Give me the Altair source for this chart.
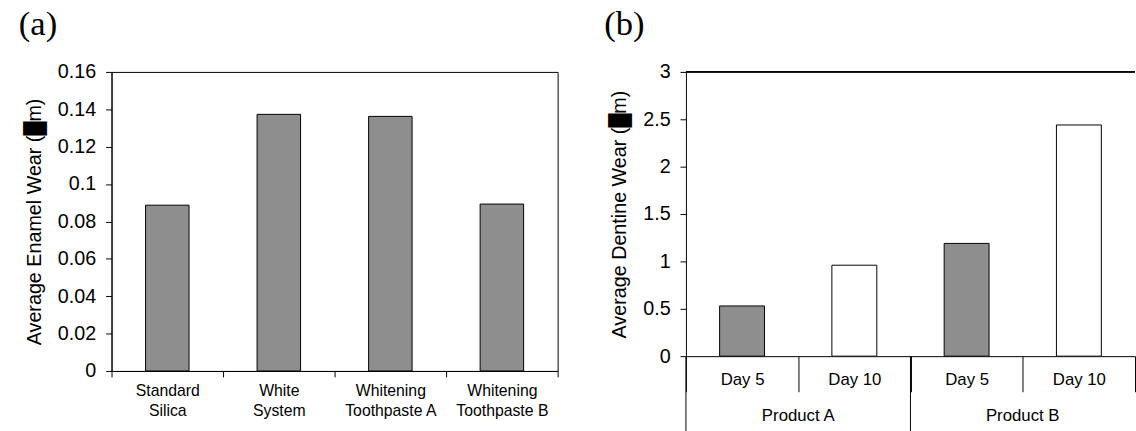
import altair as alt
import pandas as pd

# ---- data (a) ----
a_labels = ["Standard|Silica", "White|System", "Whitening|Toothpaste A", "Whitening|Toothpaste B"]
a_values = [0.0887, 0.1373, 0.1362, 0.0893]
a_ticks = [0, 0.02, 0.04, 0.06, 0.08, 0.1, 0.12, 0.14, 0.16]

# ---- data (b) ----
b_products = ["Product A", "Product A", "Product B", "Product B"]
b_days = ["Day 5", "Day 10", "Day 5", "Day 10"]
b_values = [0.53, 0.96, 1.19, 2.44]
b_pattern = ["hatched", "plain", "hatched", "plain"]
b_ticks = [0, 0.5, 1, 1.5, 2, 2.5, 3]

FONT = "Liberation Sans"
SERIF = "Liberation Serif"
HATCH = "#8e8e8e"
HA, HB = 303, 288  # plot heights

df_a = pd.DataFrame({"label": a_labels, "value": a_values})
b_keys = [p + "|" + d for p, d in zip(b_products, b_days)]
df_b = pd.DataFrame({"key": b_keys, "product": b_products, "day": b_days,
                     "value": b_values, "pattern": b_pattern})

yaxis_common = dict(grid=False, tickSize=6, labelPadding=10, labelFontSize=20,
                    titleFontSize=20, titleFontWeight="normal", titlePadding=13,
                    labelFont=FONT, titleFont=FONT, labelColor="black", titleColor="black",
                    tickColor="black", domainColor="black", format="~g")

chart_a = alt.Chart(df_a).mark_bar(
    width=alt.RelativeBandSize(0.39), fill=HATCH, stroke="black", strokeWidth=1
).encode(
    x=alt.X("label:N", sort=a_labels, title=None,
            scale=alt.Scale(paddingInner=0, paddingOuter=0),
            axis=alt.Axis(labelExpr="split(datum.label, '|')", labelAngle=0,
                          tickBand="extent", tickSize=6, labelPadding=6,
                          labelFontSize=16, labelLineHeight=20, labelFont=FONT,
                          labelColor="black", tickColor="black", domainColor="black",
                          labelBaseline="top")),
    y=alt.Y("value:Q", scale=alt.Scale(domain=[0, 0.16], nice=False),
            axis=alt.Axis(values=a_ticks, title="Average Enamel Wear (█m)", **yaxis_common)),
).properties(
    width=452, height=HA,
    title=alt.TitleParams("(a)", anchor="start", font=SERIF, fontSize=35,
                          fontWeight="normal", color="black", offset=20, dx=-6),
    view=alt.ViewBackground(stroke="black", strokeWidth=1),
)

x_b = alt.X("key:N", sort=b_keys, title=None,
            scale=alt.Scale(paddingInner=0, paddingOuter=0),
            axis=alt.Axis(labelExpr="split(datum.label, '|')[1]", labelAngle=0,
                          tickBand="extent", tickSize=36, labelPadding=-20,
                          labelFontSize=17, labelFont=FONT, labelColor="black",
                          tickColor="black", domainColor="black", labelBaseline="top"))
y_b = alt.Y("value:Q", scale=alt.Scale(domain=[0, 3], nice=False),
            axis=alt.Axis(values=b_ticks, title="Average Dentine Wear (█m)", **yaxis_common))

base_b = alt.Chart(df_b)
bars_b = base_b.mark_bar(width=alt.RelativeBandSize(0.4), stroke="black", strokeWidth=1).encode(
    x=x_b,
    y=y_b,
    fill=alt.Fill("pattern:N", scale=alt.Scale(domain=["hatched", "plain"], range=[HATCH, "white"]),
                  legend=None),
)
# product separators (start of each product group), extending below the axis
sep_b = base_b.transform_filter(alt.datum.day == "Day 5").mark_rule(
    color="black", strokeWidth=1, clip=False
).encode(
    x=alt.X("key:N", sort=b_keys, bandPosition=0),
    y=alt.value(HB), y2=alt.value(HB + 76),
)
# product labels, centred on the boundary between the two days of a product
plab_b = base_b.transform_filter(alt.datum.day == "Day 10").mark_text(
    font=FONT, fontSize=17, color="black", baseline="middle", clip=False
).encode(
    x=alt.X("key:N", sort=b_keys, bandPosition=0),
    y=alt.value(HB + 61),
    text="product:N",
)
# top frame line at the top of the value axis
top_b = base_b.mark_rule(color="black", strokeWidth=1).encode(
    y=alt.datum(b_ticks[-1]),
)

chart_b = alt.layer(bars_b, sep_b, plab_b, top_b).properties(
    width=455, height=HB,
    title=alt.TitleParams("(b)", anchor="start", font=SERIF, fontSize=35,
                          fontWeight="normal", color="black", offset=20, dx=-6),
    view=alt.ViewBackground(stroke="transparent"),
)

chart = alt.hconcat(chart_a, chart_b, spacing=45).properties(
    padding={"left": 18, "top": 4, "right": 0, "bottom": 0},
    background="white",
)

chart.save("out.html", embed_options={"renderer": "svg", "actions": False})
